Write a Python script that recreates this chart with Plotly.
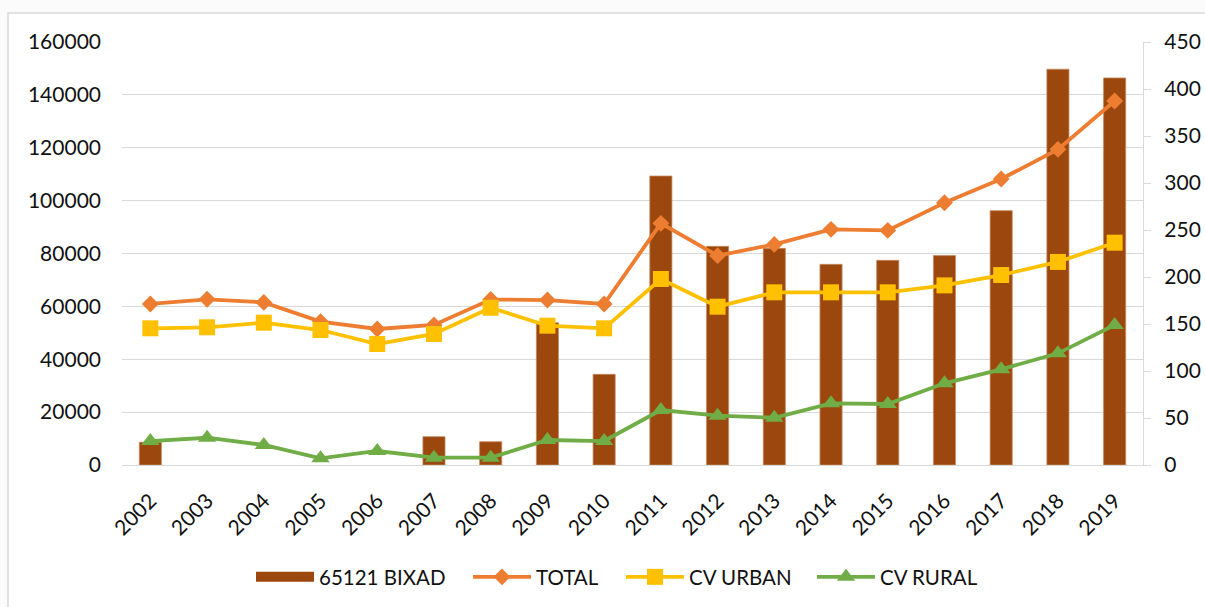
import plotly.graph_objects as go

years = [str(y) for y in range(2002, 2020)]
bixad = [8600, None, None, None, None, 10700, 8800, 53800, 34300, 109300, 82700, 81950,
         75900, 77400, 79200, 96200, 149700, 146400]
total = [171.3, 176.3, 173.0, 152.5, 144.7, 149.0, 176.0, 175.5, 171.3, 257.1,
         222.7, 234.7, 250.7, 249.6, 279.0, 304.2, 335.8, 387.2]
cv_urban = [145.4, 146.5, 151.4, 143.6, 128.7, 139.4, 167.3, 148.2, 145.4, 197.9,
            168.4, 183.7, 183.7, 183.7, 191.1, 202.1, 216.0, 236.5]
cv_rural = [25.5, 29.0, 21.3, 7.1, 14.9, 7.8, 7.8, 26.6, 25.5, 58.5,
            52.5, 50.3, 65.6, 64.9, 86.9, 101.8, 118.8, 148.9]

FONT = "Lato"
TXT = "#111111"
GRID = "#d9d9d9"
BAR = "#9c470d"

W, H = 1205, 607
L, R, T, B = 122, 62, 42, 142
pw, ph = W - L - R, H - T - B


def px_x(p):
    return (p - L) / pw


def px_y(p):
    return (H - B - p) / ph


fig = go.Figure()
fig.add_trace(go.Bar(x=years, y=bixad, name="65121 BIXAD",
                     marker=dict(color=BAR, line=dict(color="#c48a60", width=0.8)),
                     yaxis="y", showlegend=False))
# legend entry for the bar series (wide swatch like the original)
fig.add_trace(go.Scatter(x=[None], y=[None], name="65121 BIXAD", mode="lines",
                         line=dict(color=BAR, width=20), yaxis="y", legend="legend"))
fig.add_trace(go.Scatter(x=years, y=total, name="TOTAL", mode="lines+markers",
                         line=dict(color="#ed7d31", width=3.8),
                         marker=dict(symbol="diamond", size=13, color="#ed7d31"),
                         yaxis="y2", legend="legend2"))
fig.add_trace(go.Scatter(x=years, y=cv_urban, name="CV URBAN", mode="lines+markers",
                         line=dict(color="#ffc000", width=3.8),
                         marker=dict(symbol="square", size=16, color="#ffc000"),
                         yaxis="y2", legend="legend3"))
fig.add_trace(go.Scatter(x=years, y=cv_rural, name="CV RURAL", mode="lines+markers",
                         line=dict(color="#70ad47", width=3.8),
                         marker=dict(symbol="triangle-up", size=16, color="#70ad47"),
                         yaxis="y2", legend="legend4"))


def leg(text_start):
    return dict(orientation="h", x=px_x(text_start - 67), xanchor="left",
                y=px_y(577), yanchor="middle",
                font=dict(family=FONT, size=20.5, color=TXT),
                bgcolor="rgba(0,0,0,0)", itemwidth=58)


fig.update_layout(
    width=W, height=H,
    margin=dict(l=L, r=R, t=T, b=B, autoexpand=False),
    paper_bgcolor="#fbfbfb",
    plot_bgcolor="rgba(0,0,0,0)",
    font=dict(family=FONT, size=21, color=TXT),
    bargap=0.61,
    showlegend=True,
    legend=leg(318),
    legend2=leg(535),
    legend3=leg(688),
    legend4=leg(879),
    xaxis=dict(type="category", range=[-0.5, 17.5], autorange=False, tickangle=-45,
               showgrid=False, showline=True,
               linecolor=GRID, linewidth=1.3, ticks="", ticklabelstandoff=14,
               tickfont=dict(family=FONT, size=21, color=TXT)),
    yaxis=dict(range=[0, 160000], dtick=20000, showgrid=True, gridcolor=GRID,
               gridwidth=1.3, showline=False, zeroline=False, ticks="",
               ticklabelstandoff=20, tickformat="d",
               tickfont=dict(family=FONT, size=21, color=TXT)),
    yaxis2=dict(range=[0, 450], dtick=50, overlaying="y", side="right",
                showgrid=False, zeroline=False, showline=True, linecolor=GRID,
                linewidth=1.3, ticks="outside", ticklen=7, tickcolor=GRID,
                tickwidth=1.3, ticklabelstandoff=9,
                tickfont=dict(family=FONT, size=21, color=TXT)),
    shapes=[dict(type="rect", xref="paper", yref="paper", layer="below",
                 x0=px_x(8), x1=px_x(1220), y0=px_y(625), y1=px_y(13),
                 fillcolor="white", line=dict(color=GRID, width=1.5))],
)

fig.write_html("out.html", config={"displayModeBar": False},
               post_script="document.body.style.margin='0';"
                           "document.body.style.overflow='hidden';")
